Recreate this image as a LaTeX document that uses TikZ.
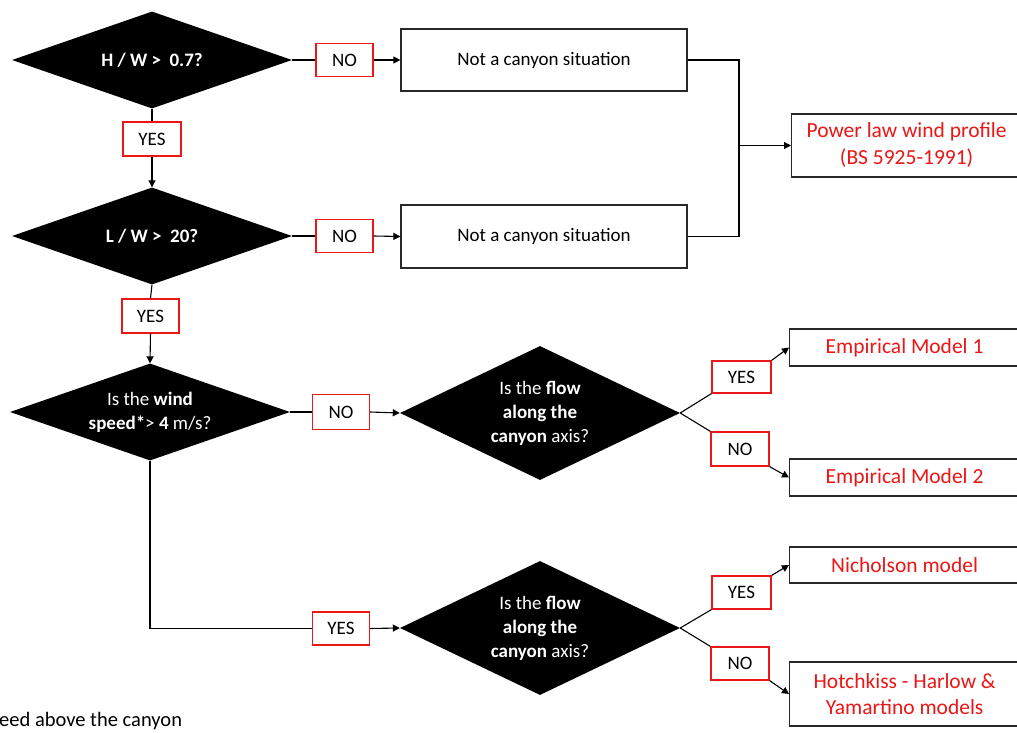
\documentclass[tikz,border=0pt]{standalone}
\usepackage{fontspec}
\setmainfont{Carlito}
\usetikzlibrary{shapes.geometric,arrows.meta}
\definecolor{lred}{RGB}{235,22,22}
\definecolor{bord}{RGB}{40,40,40}
\begin{document}
\begin{tikzpicture}[x=1pt,y=-1pt,
  dec/.style={diamond, fill=black, draw=none, inner sep=0pt, minimum width=280pt, minimum height=#1},
  dec/.default=97pt,
  dtext/.style={text=white, font=\fontsize{19}{24}\selectfont, align=center, inner sep=0pt},
  lab/.style={draw=lred, line width=1.2pt, fill=white, font=\fontsize{19}{23}\selectfont, minimum width=57pt, minimum height=33pt, inner sep=0pt},
  cbox/.style={draw=bord, line width=1.2pt, font=\fontsize{19}{23}\selectfont, minimum width=286pt, minimum height=62pt, inner sep=0pt},
  res/.style={draw=bord, line width=1.2pt, text=lred, font=\fontsize{21.5}{27}\selectfont, minimum width=230pt, minimum height=#1, align=center, anchor=west, inner sep=0pt},
  conn/.style={line width=1.1pt, draw=black},
  arr/.style={conn, -{Triangle[length=7pt,width=7pt]}}
]
\clip (0,0) rectangle (1017,733);
\fill[white] (0,0) rectangle (1017,733);

% decisions
\node[dec] (d1) at (152,60) {};
\node[dtext] (d1t) at (d1.center) {\textbf{H / W >\ \ 0.7?}};
\node[dec] (d2) at (152,236) {};
\node[dtext] (d2t) at (d2.center) {\textbf{L / W >\ \ 20?}};
\node[dec] (d3) at (150,412) {};
\node[dtext] (d3t) at (d3.center) {Is the \textbf{wind}\\\textbf{speed*}> \textbf{4} m/s?};
\node[dec=134pt] (d4) at (540,413) {};
\node[dtext] (d4t) at (d4.center) {Is the \textbf{flow}\\\textbf{along the}\\\textbf{canyon} axis?};
\node[dec=134pt] (d5) at (540,628) {};
\node[dtext] (d5t) at (d5.center) {Is the \textbf{flow}\\\textbf{along the}\\\textbf{canyon} axis?};

% plain boxes
\node[cbox] (b1) at (544,60) {Not a canyon situation};
\node[cbox, minimum height=63pt] (b2) at (544,236.5) {Not a canyon situation};

% result boxes
\node[res=63pt] (pw) at (791,145.5) {Power law wind profile\\(BS 5925-1991)};
\node[res=37pt] (e1) at (789,347.5) {Empirical Model 1};
\node[res=37pt] (e2) at (789,477.5) {Empirical Model 2};
\node[res=36pt] (ni) at (789,565) {Nicholson model};
\node[res=64pt, font=\fontsize{21.5}{26.5}\selectfont] (ho) at (789,694) {Hotchkiss - Harlow \&\\Yamartino models};

% yes/no labels
\node[lab] (n1) at (344.5,60) {NO};
\node[lab, minimum width=58pt, minimum height=34pt] (y1) at (152,139) {YES};
\node[lab] (n2) at (344.5,236) {NO};
\node[lab, minimum height=34pt] (y2) at (150.5,316) {YES};
\node[lab, minimum height=35pt] (n3) at (341,412) {NO};
\node[lab] (y3) at (341,628.5) {YES};
\node[lab, minimum width=59pt, minimum height=32pt] (ya) at (741.5,377) {YES};
\node[lab, minimum width=58pt, minimum height=34pt] (na) at (740,449) {NO};
\node[lab, minimum width=59pt] (yb) at (741.5,592.5) {YES};
\node[lab, minimum width=58pt] (nb) at (740,663.5) {NO};

% connectors
\draw[conn] (d1.east) -- (n1.west);
\draw[arr] (n1.east) -- (b1.west);
\draw[conn] (d1.south) -- (y1.north);
\draw[arr] (y1.south) -- (d2.north);
\draw[conn] (d2.east) -- (n2.west);
\draw[arr] (n2.east) -- (b2.west);
\draw[conn] (d2.south) -- (y2.north);
\draw[arr] (y2.south) -- (d3.north);
\draw[conn] (d3.east) -- (n3.west);
\draw[arr] (n3.east) -- (d4.west);
\draw[conn] (d3.south) |- (y3.west);
\draw[arr] (y3.east) -- (d5.west);

\coordinate (j) at (739,145.5);
\draw[conn] (b1.east) -| (j) |- (b2.east);
\draw[arr] (j) -- (pw.west);

\draw[conn] (d4.east) -- (ya.south west);
\draw[arr] (ya.north east) -- (e1.west);
\draw[conn] (d4.east) -- (na.north west);
\draw[arr] (na.south east) -- (e2.west);
\draw[conn] (d5.east) -- (yb.south west);
\draw[arr] (yb.north east) -- (ni.west);
\draw[conn] (d5.east) -- (nb.north west);
\draw[arr] (nb.south east) -- (ho.west);

% footnote (cut off at the left edge)
\node[anchor=west, inner sep=0pt, font=\fontsize{20.5}{24}\selectfont] (fn) at (-1,721) {eed above the canyon};
\end{tikzpicture}
\end{document}
